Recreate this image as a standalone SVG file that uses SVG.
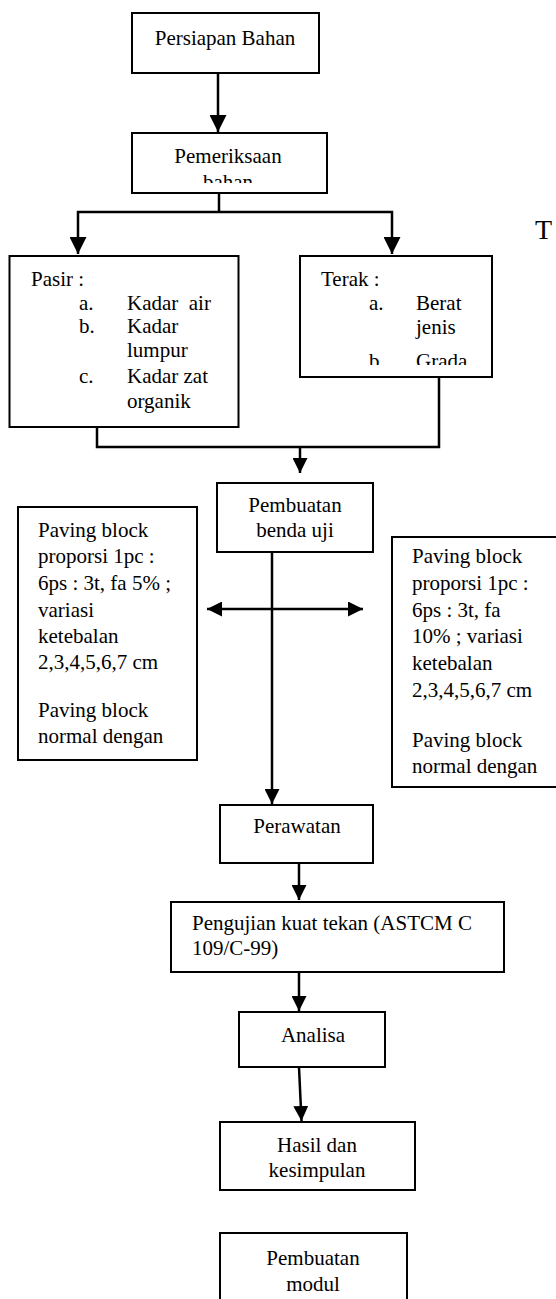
<svg xmlns="http://www.w3.org/2000/svg" width="556" height="1299" viewBox="0 0 556 1299">
<style>
  .box { fill: #ffffff; stroke: #000000; stroke-width: 2; }
  .t { font-family: "Liberation Serif", "Times New Roman", serif; font-size: 21px; fill: #000000; }
  .c { text-anchor: middle; }
  .con { fill: none; stroke: #000000; stroke-width: 2.5; }
</style>
<defs>
  <marker id="ah" markerUnits="userSpaceOnUse" markerWidth="15" markerHeight="15" refX="15" refY="7.5" orient="auto-start-reverse" viewBox="0 0 15 15">
    <path d="M0,0 L15,7.5 L0,15 Z" fill="#000000"/>
  </marker>
  <marker id="ahL" markerUnits="userSpaceOnUse" markerWidth="17" markerHeight="17" refX="17" refY="8.5" orient="auto" viewBox="0 0 17 17">
    <path d="M0,0 L17,8.5 L0,17 Z" fill="#000000"/>
  </marker>
  <clipPath id="clipB2"><rect x="132" y="133" width="195" height="50"/></clipPath>
  <clipPath id="clipTerak"><rect x="300" y="256" width="192" height="109"/></clipPath>
</defs>
<rect x="0" y="0" width="556" height="1299" fill="#ffffff"/>

<g id="connectors">
  <path class="con" d="M218,73 V132" marker-end="url(#ahL)"/>
  <path class="con" d="M219,193 V212"/>
  <path class="con" d="M219,212 H78 V254" marker-end="url(#ahL)"/>
  <path class="con" d="M219,212 H392 V254" marker-end="url(#ahL)"/>
  <path class="con" d="M97,427 V447 H439 V377"/>
  <path class="con" d="M300,447 V473" marker-end="url(#ah)"/>
  <path class="con" d="M272,552 V804" marker-end="url(#ah)"/>
  <path class="con" d="M207,609 H363" marker-start="url(#ah)" marker-end="url(#ah)"/>
  <path class="con" d="M299,863 V900" marker-end="url(#ah)"/>
  <path class="con" d="M299,973 V1011" marker-end="url(#ah)"/>
  <path class="con" d="M299,1067 L301.5,1121" marker-end="url(#ah)"/>
</g>

<g id="persiapan">
  <rect class="box" x="132" y="13" width="187" height="60"/>
  <text class="t c" x="225" y="45">Persiapan Bahan</text>
</g>

<g id="pemeriksaan">
  <rect class="box" x="132" y="133" width="195" height="60"/>
  <g clip-path="url(#clipB2)">
    <text class="t c" x="228" y="163">Pemeriksaan</text>
    <text class="t c" x="228" y="189">bahan</text>
  </g>
</g>

<g id="pasir">
  <rect class="box" x="9.5" y="256" width="229" height="171"/>
  <text class="t" x="31" y="286">Pasir :</text>
  <text class="t" x="79" y="310">a.</text>
  <text class="t" x="127" y="310" xml:space="preserve">Kadar  air</text>
  <text class="t" x="79" y="333">b.</text>
  <text class="t" x="127" y="333">Kadar</text>
  <text class="t" x="127" y="357">lumpur</text>
  <text class="t" x="79" y="383">c.</text>
  <text class="t" x="127" y="383">Kadar zat</text>
  <text class="t" x="127" y="408">organik</text>
</g>

<g id="terak">
  <rect class="box" x="300" y="256" width="192" height="121"/>
  <text class="t" x="321" y="286">Terak :</text>
  <text class="t" x="369" y="310">a.</text>
  <text class="t" x="416" y="310">Berat</text>
  <text class="t" x="416" y="334">jenis</text>
  <g clip-path="url(#clipTerak)">
    <text class="t" x="369" y="368">b.</text>
    <text class="t" x="416" y="368">Grada</text>
  </g>
</g>

<g id="label-t">
  <text class="t" x="535" y="239" style="font-size:28px">T</text>
</g>

<g id="pembuatan-benda-uji">
  <rect class="box" x="217" y="483" width="156" height="69"/>
  <text class="t c" x="295" y="512">Pembuatan</text>
  <text class="t c" x="295" y="537">benda uji</text>
</g>

<g id="paving-5">
  <rect class="box" x="18" y="507" width="179" height="253"/>
  <text class="t" x="38" y="537">Paving block</text>
  <text class="t" x="38" y="563">proporsi 1pc :</text>
  <text class="t" x="38" y="590">6ps : 3t, fa 5% ;</text>
  <text class="t" x="38" y="617">variasi</text>
  <text class="t" x="38" y="643">ketebalan</text>
  <text class="t" x="38" y="669">2,3,4,5,6,7 cm</text>
  <text class="t" x="38" y="717">Paving block</text>
  <text class="t" x="38" y="743">normal dengan</text>
</g>

<g id="paving-10">
  <rect class="box" x="392" y="537" width="180" height="250"/>
  <text class="t" x="412" y="563">Paving block</text>
  <text class="t" x="412" y="590">proporsi 1pc :</text>
  <text class="t" x="412" y="617">6ps : 3t, fa</text>
  <text class="t" x="412" y="643">10% ; variasi</text>
  <text class="t" x="412" y="670">ketebalan</text>
  <text class="t" x="412" y="697">2,3,4,5,6,7 cm</text>
  <text class="t" x="412" y="747">Paving block</text>
  <text class="t" x="412" y="773">normal dengan</text>
</g>

<g id="perawatan">
  <rect class="box" x="220" y="805" width="153" height="58"/>
  <text class="t c" x="297" y="833">Perawatan</text>
</g>

<g id="pengujian">
  <rect class="box" x="171" y="902" width="333" height="70"/>
  <text class="t" x="192" y="930">Pengujian kuat tekan (ASTCM C</text>
  <text class="t" x="192" y="955">109/C-99)</text>
</g>

<g id="analisa">
  <rect class="box" x="239" y="1012" width="146" height="55"/>
  <text class="t c" x="313" y="1042">Analisa</text>
</g>

<g id="hasil">
  <rect class="box" x="220" y="1122" width="195" height="68"/>
  <text class="t c" x="317" y="1152">Hasil dan</text>
  <text class="t c" x="317" y="1177">kesimpulan</text>
</g>

<g id="modul">
  <rect class="box" x="220" y="1233" width="187" height="80"/>
  <text class="t c" x="313" y="1265">Pembuatan</text>
  <text class="t c" x="313" y="1291">modul</text>
</g>
</svg>
